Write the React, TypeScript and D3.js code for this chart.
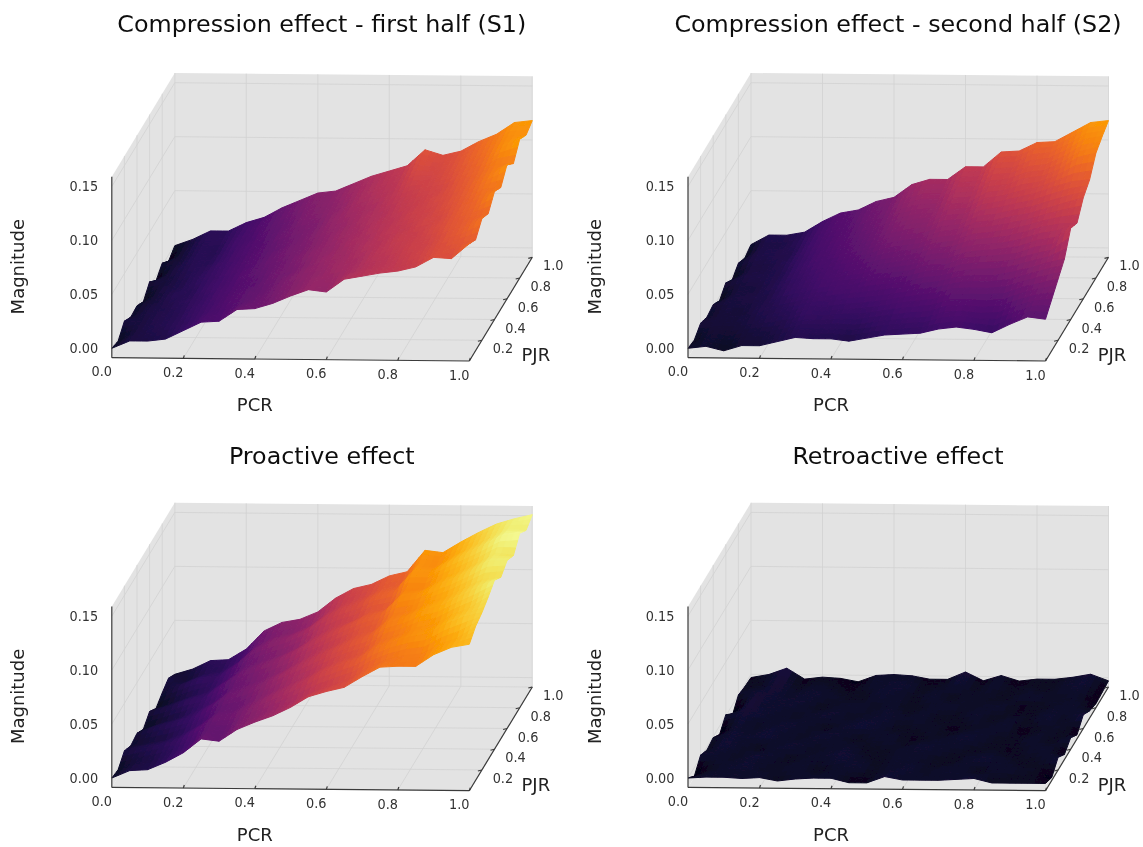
import React, { useEffect, useRef } from 'react';
import * as d3 from 'd3';

// magnitudes in thousandths, rows run from PJR 0 (front) to PJR 1 (back),
// columns from PCR 0 to PCR 1 in steps of 0.05
const firstHalf = [
  [0, 7, 7, 9, 17, 25, 26, 37, 38, 43, 50, 56, 54, 66, 69, 72, 74, 78, 87, 86, 100],
  [-3, 6, 9, 12, 16, 23, 27, 33, 38, 44, 49, 55, 57, 63, 68, 71, 76, 81, 86, 90, 94],
  [6, 6, 10, 11, 18, 22, 29, 34, 37, 45, 51, 54, 60, 62, 70, 73, 78, 80, 88, 94, 104],
  [0, 7, 9, 13, 17, 24, 28, 32, 40, 43, 50, 57, 59, 66, 69, 76, 77, 84, 90, 95, 99],
  [1, 5, 11, 12, 19, 23, 30, 35, 39, 46, 52, 55, 62, 65, 72, 74, 81, 83, 92, 98, 110],
  [-5, 6, 9, 14, 18, 25, 29, 36, 42, 45, 51, 58, 61, 68, 71, 78, 80, 87, 93, 102, 104],
  [4, 5, 10, 13, 20, 24, 31, 35, 41, 47, 53, 57, 64, 67, 74, 77, 83, 88, 96, 105, 116],
  [-5, 6, 11, 12, 19, 26, 30, 38, 43, 46, 55, 60, 63, 70, 75, 80, 82, 91, 97, 106, 107],
  [2, 4, 12, 11, 21, 25, 33, 37, 46, 49, 54, 62, 67, 71, 80, 81, 86, 93, 100, 112, 120],
  [-6, 5, 12, 13, 20, 27, 34, 41, 47, 50, 57, 63, 69, 73, 85, 83, 88, 96, 103, 113, 114],
  [-1, 5, 13, 13, 21, 26, 35, 42, 49, 51, 58, 65, 70, 75, 90, 85, 89, 98, 105, 116, 118],
];

const secondHalf = [
  [0, 2, -2, 3, 3, 7, 11, 10, 10, 8, 11, 14, 15, 16, 20, 22, 20, 17, 25, 32, 30],
  [-2, 3, 2, 5, 6, 9, 13, 13, 14, 13, 16, 18, 20, 21, 26, 27, 25, 26, 32, 37, 39],
  [4, 4, 5, 7, 10, 12, 17, 16, 18, 19, 21, 24, 26, 28, 33, 33, 33, 34, 40, 44, 48],
  [0, 5, 4, 9, 11, 15, 19, 21, 23, 25, 27, 29, 33, 35, 39, 41, 41, 44, 48, 53, 57],
  [2, 6, 7, 8, 14, 18, 22, 25, 26, 31, 33, 35, 40, 41, 47, 49, 50, 52, 58, 61, 76],
  [-4, 5, 6, 10, 15, 20, 24, 27, 31, 35, 38, 41, 46, 48, 54, 56, 58, 62, 67, 70, 71],
  [3, 7, 8, 9, 17, 23, 26, 31, 35, 41, 44, 46, 52, 54, 61, 63, 67, 70, 75, 80, 85],
  [-4, 6, 7, 11, 18, 24, 29, 33, 38, 45, 49, 51, 58, 59, 68, 71, 75, 79, 85, 90, 92],
  [2, 8, 9, 10, 20, 26, 30, 36, 41, 49, 53, 54, 64, 65, 75, 77, 83, 85, 92, 103, 107],
  [-3, 8, 8, 12, 21, 28, 32, 39, 43, 53, 58, 58, 69, 70, 82, 83, 90, 92, 100, 110, 113],
  [0, 9, 9, 12, 22, 30, 33, 41, 45, 57, 62, 62, 74, 74, 88, 89, 97, 98, 107, 116, 118],
];

const proactive = [
  [0, 7, 8, 15, 24, 37, 35, 46, 53, 59, 67, 77, 82, 86, 96, 105, 106, 106, 117, 124, 127],
  [-2, 5, 8, 14, 22, 35, 35, 46, 51, 58, 65, 73, 79, 85, 95, 102, 106, 108, 117, 123, 134],
  [6, 9, 12, 16, 27, 37, 40, 47, 56, 63, 71, 80, 86, 92, 102, 109, 114, 117, 126, 133, 137],
  [1, 4, 7, 14, 22, 35, 37, 46, 53, 61, 68, 77, 84, 89, 101, 106, 113, 116, 125, 132, 142],
  [3, 9, 13, 17, 28, 38, 43, 49, 58, 66, 74, 82, 89, 95, 107, 112, 119, 124, 132, 140, 148],
  [-3, 3, 8, 15, 23, 36, 41, 47, 54, 64, 72, 79, 87, 92, 106, 109, 117, 123, 131, 139, 141],
  [4, 8, 14, 17, 29, 39, 46, 52, 60, 69, 77, 85, 92, 97, 112, 115, 122, 129, 137, 146, 147],
  [-3, 3, 9, 14, 24, 37, 43, 48, 55, 67, 75, 80, 89, 92, 110, 110, 120, 127, 135, 144, 142],
  [2, 9, 15, 16, 27, 41, 49, 54, 61, 72, 80, 86, 94, 98, 116, 116, 125, 133, 141, 150, 153],
  [6, 3, 10, 13, 22, 38, 46, 49, 56, 69, 78, 83, 91, 94, 114, 112, 122, 131, 139, 147, 146],
  [0, 5, 13, 14, 24, 41, 49, 52, 59, 72, 81, 85, 93, 97, 117, 115, 125, 134, 142, 147, 151],
];

const retroactive = [
  [0, 1, 1, 0, 1, -2, 0, 1, 1, -3, -3, 3, 0, 0, 0, 1, 2, -2, -2, -2, -2],
  [-8, -1, 1, 2, -1, 0, 1, -2, 0, 2, -1, 0, 2, -1, 1, 0, -2, 1, 0, -1, -6],
  [2, 1, -1, 2, 1, -2, 0, 1, 3, 0, -2, 1, 0, -1, -3, 1, 2, 0, -2, -1, 3],
  [-3, 3, 0, -2, 1, 2, -1, 0, 1, -2, -1, 0, 2, 1, 0, -2, -1, -3, 0, 1, -4],
  [-1, 2, 1, 3, 0, -1, 2, 1, -2, 0, 1, -3, -1, 0, 2, 1, -2, -1, 1, -2, 2],
  [-8, 2, -1, 1, 2, 0, -2, 1, 3, 1, -2, -1, 0, -3, -1, 0, 1, -4, -1, 0, -5],
  [1, 3, 2, 0, -1, 1, 2, -1, 0, 2, 0, 1, -2, -1, 1, -2, 0, -1, 2, -1, 4],
  [-10, 4, 1, 2, 1, -2, 0, 1, -1, 1, -3, 0, 1, -1, 0, 1, -3, -2, 0, 1, -2],
  [0, 2, 3, 0, 2, 1, -1, -2, 2, 0, -1, 1, -2, 0, -1, -2, 1, 0, -1, 0, -5],
  [-2, -1, 4, -2, 0, -1, -3, 0, 1, 2, -2, -1, 2, -2, 1, -2, -1, -2, 1, 2, -4],
  [-3, 0, 6, -4, -2, -3, -6, 0, 1, 0, -3, -3, 4, -4, 1, -4, -2, -2, 0, 3, -3],
];

const titles = [
  'Compression effect - first half (S1)',
  'Compression effect - second half (S2)',
  'Proactive effect',
  'Retroactive effect',
];
const grids = [firstHalf, secondHalf, proactive, retroactive];
const origins = [[111.8, 357.7], [688, 357.7], [111.8, 787.4], [688, 787.4]];
const titleY = [24, 24, 456, 456];

const xyTicks = [0.2, 0.4, 0.6, 0.8, 1.0];
const zTicks = [0, 0.05, 0.1, 0.15];
const zMin = -0.0087;
const zMax = 0.159;

const W = 1143;
const H = 847;
const SUB = 3;

// orthographic view of the box, one scale per screen component
const pcrX = d3.scaleLinear().domain([0, 1]).range([0, 357.5]);
const pcrY = d3.scaleLinear().domain([0, 1]).range([0, 3.3]);
const pjrX = d3.scaleLinear().domain([0, 1]).range([0, 63]);
const pjrY = d3.scaleLinear().domain([0, 1]).range([0, -103.7]);
const magY = d3.scaleLinear().domain([zMin, zMax]).range([0, -181]);
const colour = d3.scaleSequential(d3.interpolateInferno).domain([-0.012, 0.155]);

const fontFamily = '"DejaVu Sans", sans-serif';

export default function App() {
  const ref = useRef<SVGSVGElement>(null);

  useEffect(() => {
    const svg = d3.select(ref.current);
    svg.selectAll('*').remove();

    const blur = svg.append('defs').append('filter').attr('id', 'soft')
      .attr('x', 0).attr('y', 0).attr('width', 1).attr('height', 1);
    blur.append('feGaussianBlur').attr('stdDeviation', 0.5);

    const root = svg.append('g').attr('filter', 'url(#soft)');
    root.append('rect').attr('width', W).attr('height', H).attr('fill', '#fff');

    grids.forEach((grid, idx) => {
      const [ox, oy] = origins[idx];
      const project = (p: number, j: number, m: number): [number, number] => [
        ox + pcrX(p) + pjrX(j),
        oy + pcrY(p) + pjrY(j) + magY(m),
      ];
      const line = d3.line();
      const g = root.append('g');

      // box walls
      const walls = [
        [project(0, 1, zMin), project(1, 1, zMin), project(1, 1, zMax), project(0, 1, zMax)],
        [project(0, 0, zMin), project(0, 1, zMin), project(0, 1, zMax), project(0, 0, zMax)],
        [project(0, 0, zMin), project(1, 0, zMin), project(1, 1, zMin), project(0, 1, zMin)],
      ];
      walls.forEach((w) => {
        g.append('path').attr('d', line(w) + 'Z').attr('fill', '#e3e3e3');
      });

      // grid lines on walls and floor
      const gridLine = (pts: [number, number][]) => {
        g.append('path').attr('d', line(pts)).attr('fill', 'none')
          .attr('stroke', '#d2d2d2').attr('stroke-width', 0.8);
      };
      xyTicks.forEach((t) => {
        gridLine([project(t, 0, zMin), project(t, 1, zMin), project(t, 1, zMax)]);
        gridLine([project(0, t, zMin), project(1, t, zMin)]);
        gridLine([project(0, t, zMin), project(0, t, zMax)]);
      });
      zTicks.forEach((t) => {
        gridLine([project(0, 0, t), project(0, 1, t), project(1, 1, t)]);
      });

      // surface, painted from the back row to the front one
      for (let r = grid.length - 2; r >= 0; r--) {
        for (let c = 0; c < grid[r].length - 1; c++) {
          const a = grid[r][c] / 1000;
          const b = grid[r][c + 1] / 1000;
          const d = grid[r + 1][c] / 1000;
          const e = grid[r + 1][c + 1] / 1000;
          const at = (u: number, v: number) =>
            a * (1 - u) * (1 - v) + b * u * (1 - v) + d * (1 - u) * v + e * u * v;
          for (let sv = SUB - 1; sv >= 0; sv--) {
            for (let su = 0; su < SUB; su++) {
              const u0 = su / SUB;
              const u1 = (su + 1) / SUB;
              const v0 = sv / SUB;
              const v1 = (sv + 1) / SUB;
              const pt = (u: number, v: number) =>
                project((c + u) / 20, (r + v) / 10, at(u, v));
              const fill = colour(at((u0 + u1) / 2, (v0 + v1) / 2));
              g.append('path')
                .attr('d', line([pt(u0, v0), pt(u1, v0), pt(u1, v1), pt(u0, v1)]) + 'Z')
                .attr('fill', fill)
                .attr('stroke', fill)
                .attr('stroke-width', 1);
            }
          }
        }
      }

      // axes
      const axis = (pts: [number, number][]) => {
        g.append('path').attr('d', line(pts)).attr('fill', 'none')
          .attr('stroke', '#3a3a3a').attr('stroke-width', 1.2);
      };
      axis([project(0, 0, zMin), project(1, 0, zMin)]);
      axis([project(1, 0, zMin), project(1, 1, zMin)]);
      axis([project(0, 0, zMin), project(0, 0, zMax)]);

      const label = (x: number, y: number, s: string, size: number, fill: string, sx = 1) =>
        g.append('text')
          .attr('transform', `translate(${x} ${y}) scale(${sx} 1)`)
          .attr('text-anchor', 'middle')
          .attr('dominant-baseline', 'central')
          .attr('font-family', fontFamily)
          .attr('font-size', size)
          .attr('fill', fill)
          .text(s);

      [0, ...xyTicks].forEach((t) => {
        const [x, y] = project(t, 0, zMin);
        label(x - 10, y + 14, t.toFixed(1), 14, '#333', 0.92);
        if (t > 0) {
          const [tx, ty] = project(1, t, zMin);
          axis([[tx, ty], [tx - 4, ty + 1]]);
          label(tx + 21, ty + 8.5, t.toFixed(1), 14, '#333', 0.92);
          const [bx, by] = project(t, 0, zMin);
          axis([[bx, by], [bx + 1, by - 3]]);
        }
      });
      zTicks.forEach((t) => {
        const [x, y] = project(0, 0, t);
        label(x - 28, y, t.toFixed(2), 14, '#333', 0.92);
      });

      label(ox + 143, oy + 47, 'PCR', 18, '#222');
      label(ox + 424, oy - 3, 'PJR', 18, '#222');
      label(ox - 94, oy - 91, 'Magnitude', 18, '#222')
        .attr('transform', `translate(${ox - 94} ${oy - 91}) rotate(-90)`);
      label(ox + 210, titleY[idx], titles[idx], 23.8, '#111');
    });
  }, []);

  return (
    <svg
      ref={ref}
      width={W}
      height={H}
      style={{ position: 'absolute', left: 0, top: 0, background: '#fff' }}
    />
  );
}
